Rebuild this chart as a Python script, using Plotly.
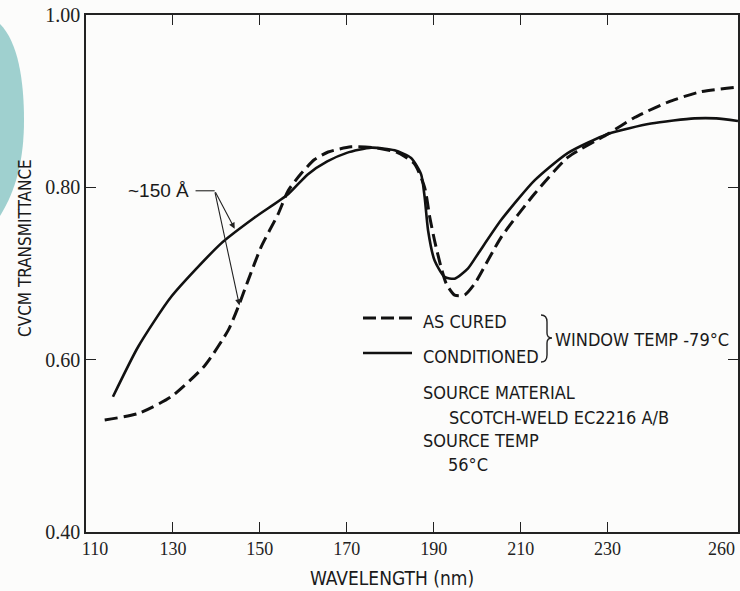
import plotly.graph_objects as go

# ---------------- data ----------------
cond_wl = [116.2, 122.0, 129.6, 141.1, 148.8, 156.5, 161.0, 165.5, 170.0, 175.6,
           181.0, 184.8, 187.1, 187.9, 188.7, 190.2, 192.5, 194.8, 197.9, 200.2,
           205.5, 213.2, 220.9, 230.1, 240.0, 250.0, 255.0, 260.0]
cond_tr = [0.557, 0.615, 0.673, 0.735, 0.765, 0.792, 0.815, 0.830, 0.840, 0.846,
           0.843, 0.834, 0.815, 0.789, 0.750, 0.715, 0.696, 0.694, 0.706, 0.723,
           0.762, 0.808, 0.840, 0.862, 0.874, 0.880, 0.880, 0.877]

cured_wl = [114.3, 122.0, 129.6, 137.3, 142.7, 145.0, 147.3, 150.3, 154.2, 156.5,
            159.5, 162.5, 165.7, 171.0, 176.4, 181.8, 185.6, 187.9, 189.1, 190.2,
            191.7, 192.9, 194.8, 197.1, 199.4, 205.5, 213.2, 220.9, 230.1, 236.2,
            243.9, 251.5, 259.2]
cured_tr = [0.530, 0.5375, 0.557, 0.593, 0.634, 0.661, 0.692, 0.731, 0.769, 0.796,
            0.816, 0.832, 0.841, 0.847, 0.846, 0.840, 0.827, 0.800, 0.765, 0.738,
            0.707, 0.688, 0.675, 0.675, 0.688, 0.742, 0.7925, 0.835, 0.862, 0.881,
            0.899, 0.911, 0.916]

x_tickvals = [110, 130, 150, 170, 190, 210, 230, 260]
x_ticktext = ["\u00a0\u00a0\u00a0\u00a0110", "130", "150", "170", "190", "210", "230", ""]
last_x_label = "260"
y_tickvals = [0.40, 0.60, 0.80, 1.00]
y_ticktext = ["0.40", "0.60", "0.80", "1.00"]

# ---------------- geometry helpers (pixel -> paper) ----------------
W, H = 740, 591
L, R, T, B = 86, 738, 15, 532


def px(xp):
    return (xp - L) / (R - L)


def py(yp):
    return (B - yp) / (B - T)


NARROW = "Liberation Sans Narrow, DejaVu Sans Condensed, Arial Narrow, sans-serif"
SERIF = "Liberation Serif, DejaVu Serif, serif"

fig = go.Figure()
fig.add_trace(go.Scatter(
    x=cured_wl, y=cured_tr, mode="lines", name="AS CURED",
    line=dict(color="#111", width=3, dash="13px,6px", shape="spline", smoothing=0.6),
    showlegend=False))
fig.add_trace(go.Scatter(
    x=cond_wl, y=cond_tr, mode="lines", name="CONDITIONED",
    line=dict(color="#111", width=2.6, shape="spline", smoothing=0.6),
    showlegend=False))

axis_common = dict(showline=True, linecolor="#222", linewidth=1.6, mirror="ticks",
                   ticks="inside", ticklen=10, tickwidth=1.4, tickcolor="#222",
                   showgrid=False, zeroline=False)

fig.update_xaxes(range=[110, 260], tickvals=x_tickvals, ticktext=x_ticktext,
                 tickfont=dict(family=SERIF, size=18, color="#222"), **axis_common)
fig.update_yaxes(range=[0.40, 1.00], tickvals=y_tickvals, ticktext=y_ticktext,
                 tickfont=dict(family=SERIF, size=20, color="#222"), **axis_common)

ann = []


def txt(text, xp, yp, size=18, family=NARROW, anchor="left"):
    ann.append(dict(text=text, x=px(xp), y=py(yp), xref="paper", yref="paper",
                    xanchor=anchor, yanchor="middle", showarrow=False,
                    font=dict(family=family, size=size, color="#1a1a1a")))


# last x tick label, kept inside the page edge
ann.append(dict(text=last_x_label, x=x_tickvals[-1], y=py(549), xref="x", yref="paper",
                xanchor="right", yanchor="middle", showarrow=False, xshift=-1,
                font=dict(family=SERIF, size=18, color="#222")))

# axis titles
ann.append(dict(text="CVCM TRANSMITTANCE", x=px(25), y=py(248), xref="paper", yref="paper",
                textangle=-90, showarrow=False, xanchor="center", yanchor="middle",
                font=dict(family=NARROW, size=17, color="#1a1a1a")))
txt("WAVELENGTH (nm)", 392, 578, size=19, anchor="center")

# legend block
txt("AS CURED", 421, 321)
txt("CONDITIONED", 421, 356)
txt("WINDOW TEMP -79°C", 553, 340)
txt("SOURCE MATERIAL", 421, 392)
txt("SCOTCH-WELD EC2216 A/B", 447, 417)
txt("SOURCE TEMP", 421, 440)
txt("56°C", 446, 464)

# ~150 Å label and arrows
txt("~150 Å", 191, 190, size=19, family="Liberation Sans, Arial, sans-serif", anchor="right")
tail_x, tail_y = 139.6, 0.796
for hx, hy in [(144.2, 0.752), (145.3, 0.663)]:
    ann.append(dict(text="", x=hx, y=hy, ax=tail_x, ay=tail_y, xref="x", yref="y",
                    axref="x", ayref="y", showarrow=True, arrowhead=2, arrowsize=1.1,
                    arrowwidth=1.1, arrowcolor="#222"))

shapes = [
    # horizontal leader for the ~150 Å note
    dict(type="line", xref="x", yref="y", x0=135.2, y0=0.796, x1=139.6, y1=0.796,
         line=dict(color="#222", width=1.1)),
    # legend keys
    dict(type="line", xref="paper", yref="paper", x0=px(363), y0=py(318), x1=px(412), y1=py(318),
         line=dict(color="#111", width=3, dash="13px,5px")),
    dict(type="line", xref="paper", yref="paper", x0=px(363), y0=py(353), x1=px(412), y1=py(353),
         line=dict(color="#111", width=2.6)),
    # brace
    dict(type="path", xref="paper", yref="paper",
         path=(f"M {px(541)} {py(315)} Q {px(547)} {py(315)} {px(547)} {py(322)} "
               f"L {px(547)} {py(333)} Q {px(547)} {py(338)} {px(552)} {py(338)} "
               f"Q {px(547)} {py(338)} {px(547)} {py(343)} L {px(547)} {py(355)} "
               f"Q {px(547)} {py(362)} {px(541)} {py(362)}"),
         line=dict(color="#222", width=1.4)),
    # teal decoration at left edge
    dict(type="path", xref="paper", yref="paper", layer="below",
         path=(f"M {px(0)} {py(24)} C {px(18)} {py(42)} {px(24)} {py(80)} {px(24)} {py(120)} "
               f"C {px(24)} {py(160)} {px(16)} {py(190)} {px(0)} {py(216)} Z"),
         fillcolor="#9fd0cf", line=dict(width=0)),
]

fig.update_layout(
    width=W, height=H,
    margin=dict(l=L, r=W - R, t=T, b=H - B, autoexpand=False),
    paper_bgcolor="#fcfcfb", plot_bgcolor="#fcfcfb",
    annotations=ann, shapes=shapes, showlegend=False,
)

fig.write_html(
    "out.html",
    config={"displayModeBar": False},
    post_script="document.body.style.margin='0px';document.body.style.overflow='hidden';",
)
